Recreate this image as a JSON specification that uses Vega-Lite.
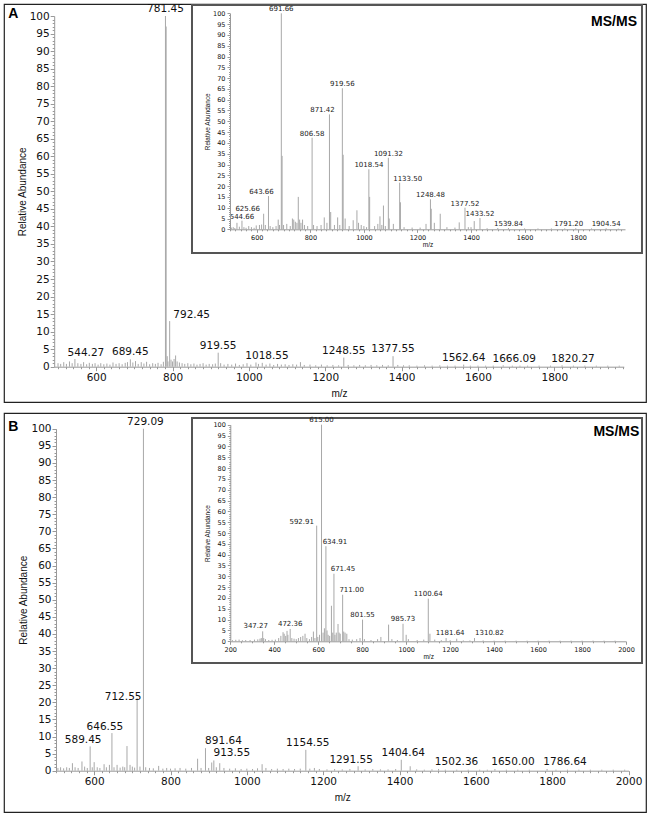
{
  "$schema": "https://vega.github.io/schema/vega-lite/v6.json",
  "padding": {"left": 3, "top": 3, "right": 3, "bottom": 3},
  "background": "white",
  "spacing": 9,
  "datasets": {
    "mainA": [
      {"mz":500,"ab":1},{"mz":507,"ab":0.8},{"mz":515,"ab":1.3},{"mz":522,"ab":0.8},{"mz":530,"ab":1.5},{"mz":537,"ab":1},
      {"mz":544.27,"ab":2.2,"label":"544.27"},{"mz":552,"ab":1},{"mz":560,"ab":0.8},{"mz":567,"ab":1.3},{"mz":575,"ab":0.7},
      {"mz":582,"ab":1.1},{"mz":590,"ab":0.8},{"mz":597,"ab":1},{"mz":605,"ab":0.6},{"mz":612,"ab":1},{"mz":620,"ab":0.7},
      {"mz":628,"ab":0.9},{"mz":636,"ab":0.6},{"mz":644,"ab":1.2},{"mz":652,"ab":0.8},{"mz":660,"ab":1},{"mz":668,"ab":0.7},
      {"mz":676,"ab":1.1},{"mz":682,"ab":1.3},{"mz":689.45,"ab":2.1,"label":"689.45"},{"mz":696,"ab":1.2},{"mz":703,"ab":1.6},
      {"mz":710,"ab":0.8},{"mz":718,"ab":1.3},{"mz":725,"ab":0.9},{"mz":732,"ab":1.4},{"mz":740,"ab":0.7},{"mz":748,"ab":1},
      {"mz":755,"ab":0.8},{"mz":762,"ab":1.1},{"mz":770,"ab":0.7},{"mz":776,"ab":1.4},{"mz":781.45,"ab":100,"label":"781.45"},
      {"mz":783.2,"ab":97},{"mz":786,"ab":3},{"mz":788,"ab":1.5},{"mz":792.45,"ab":13,"label":"792.45"},{"mz":796,"ab":2},{"mz":800,"ab":1.5},
      {"mz":804,"ab":2.2},{"mz":808,"ab":3.2},{"mz":812,"ab":1.5},{"mz":818,"ab":1.2},{"mz":825,"ab":1},{"mz":832,"ab":0.8},
      {"mz":840,"ab":1},{"mz":848,"ab":0.7},{"mz":856,"ab":0.9},{"mz":864,"ab":0.6},{"mz":872,"ab":0.8},{"mz":880,"ab":1},
      {"mz":888,"ab":0.6},{"mz":896,"ab":0.8},{"mz":905,"ab":0.7},{"mz":912,"ab":0.9},{"mz":919.55,"ab":4,"label":"919.55"},
      {"mz":926,"ab":1},{"mz":935,"ab":0.6},{"mz":945,"ab":0.8},{"mz":955,"ab":0.6},{"mz":965,"ab":0.9},{"mz":975,"ab":0.5},
      {"mz":985,"ab":0.7},{"mz":995,"ab":1},{"mz":1005,"ab":0.6},{"mz":1018.55,"ab":1.2,"label":"1018.55"},{"mz":1025,"ab":0.8},
      {"mz":1035,"ab":1.1},{"mz":1045,"ab":0.6},{"mz":1055,"ab":0.9},{"mz":1065,"ab":0.5},{"mz":1075,"ab":0.8},{"mz":1085,"ab":0.6},
      {"mz":1095,"ab":0.7},{"mz":1105,"ab":0.5},{"mz":1115,"ab":0.7},{"mz":1125,"ab":0.6},{"mz":1135,"ab":1.3},{"mz":1145,"ab":0.5},
      {"mz":1160,"ab":0.6},{"mz":1175,"ab":0.4},{"mz":1190,"ab":0.6},{"mz":1205,"ab":0.4},{"mz":1220,"ab":0.5},{"mz":1235,"ab":0.4},
      {"mz":1248.55,"ab":2.6,"label":"1248.55"},{"mz":1260,"ab":0.5},{"mz":1275,"ab":0.4},{"mz":1290,"ab":0.5},{"mz":1305,"ab":0.4},
      {"mz":1320,"ab":0.5},{"mz":1335,"ab":0.4},{"mz":1350,"ab":0.5},{"mz":1365,"ab":0.4},{"mz":1377.55,"ab":3,"label":"1377.55"},
      {"mz":1390,"ab":0.5},{"mz":1405,"ab":0.4},{"mz":1420,"ab":0.4},{"mz":1440,"ab":0.3},{"mz":1460,"ab":0.4},{"mz":1480,"ab":0.3},
      {"mz":1500,"ab":0.4},{"mz":1520,"ab":0.3},{"mz":1540,"ab":0.3},{"mz":1562.64,"ab":0.6,"label":"1562.64"},{"mz":1580,"ab":0.3},
      {"mz":1600,"ab":0.3},{"mz":1620,"ab":0.3},{"mz":1640,"ab":0.3},{"mz":1666.09,"ab":0.4,"label":"1666.09"},{"mz":1690,"ab":0.3},
      {"mz":1710,"ab":0.3},{"mz":1730,"ab":0.3},{"mz":1760,"ab":0.3},{"mz":1790,"ab":0.3},{"mz":1820.27,"ab":0.4,"label":"1820.27"},
      {"mz":1850,"ab":0.3},{"mz":1880,"ab":0.3},{"mz":1910,"ab":0.3},{"mz":1940,"ab":0.3},{"mz":1970,"ab":0.3}
    ],
    "insetA": [
      {"mz":505,"ab":0.8},{"mz":512,"ab":1},{"mz":518,"ab":0.6},{"mz":526,"ab":3},{"mz":535,"ab":1.2},{"mz":544.66,"ab":4,"label":"544.66"},
      {"mz":552,"ab":1},{"mz":560,"ab":0.7},{"mz":570,"ab":1.5},{"mz":580,"ab":1},{"mz":590,"ab":0.7},{"mz":598,"ab":1.8},
      {"mz":610,"ab":2},{"mz":618,"ab":2.2},{"mz":625.66,"ab":7.2,"label":"625.66"},{"mz":632,"ab":2},{"mz":643.66,"ab":15.4,"label":"643.66"},
      {"mz":650,"ab":1.5},{"mz":660,"ab":1},{"mz":672,"ab":1.5},{"mz":680,"ab":4.5},{"mz":685,"ab":2},{"mz":691.66,"ab":100,"label":"691.66"},
      {"mz":694.5,"ab":34},{"mz":700,"ab":2},{"mz":712,"ab":2.5},{"mz":725,"ab":1.5},{"mz":733,"ab":5},{"mz":738,"ab":4.5},{"mz":744,"ab":3.5},
      {"mz":750,"ab":3},{"mz":755,"ab":15},{"mz":760,"ab":4.5},{"mz":765,"ab":3},{"mz":771,"ab":4.5},{"mz":778,"ab":2},{"mz":790,"ab":1.5},
      {"mz":806.58,"ab":42.4,"label":"806.58"},{"mz":812,"ab":2},{"mz":825,"ab":1.5},{"mz":840,"ab":2},{"mz":852,"ab":5.5},{"mz":862,"ab":3},
      {"mz":871.42,"ab":53.2,"label":"871.42"},{"mz":876,"ab":8},{"mz":890,"ab":2},{"mz":902,"ab":5.5},{"mz":910,"ab":2},
      {"mz":919.56,"ab":65.3,"label":"919.56"},{"mz":922.5,"ab":34.5},{"mz":930,"ab":5},{"mz":945,"ab":1.5},{"mz":960,"ab":4.2},
      {"mz":974,"ab":8.8},{"mz":980,"ab":3},{"mz":990,"ab":2},{"mz":1000,"ab":1.5},{"mz":1010,"ab":1},{"mz":1018.54,"ab":27.8,"label":"1018.54"},
      {"mz":1021.5,"ab":15},{"mz":1040,"ab":1.5},{"mz":1052,"ab":2.5},{"mz":1060,"ab":6},{"mz":1067,"ab":2},{"mz":1073,"ab":11},
      {"mz":1080,"ab":1.5},{"mz":1091.32,"ab":33.1,"label":"1091.32"},{"mz":1094.5,"ab":5},{"mz":1110,"ab":2.5},
      {"mz":1133.5,"ab":21.6,"label":"1133.50"},{"mz":1136.5,"ab":12.5},{"mz":1150,"ab":1},{"mz":1180,"ab":0.8},{"mz":1210,"ab":0.8},
      {"mz":1232,"ab":2.5},{"mz":1248.48,"ab":13.9,"label":"1248.48"},{"mz":1251.5,"ab":9.5},{"mz":1263,"ab":3},{"mz":1285,"ab":7.2},
      {"mz":1310,"ab":1},{"mz":1340,"ab":0.8},{"mz":1356,"ab":3.2},{"mz":1377.52,"ab":10,"label":"1377.52"},{"mz":1390,"ab":1},
      {"mz":1400,"ab":1},{"mz":1412,"ab":3.8},{"mz":1433.52,"ab":5.2,"label":"1433.52"},{"mz":1460,"ab":0.5},{"mz":1500,"ab":0.6},
      {"mz":1539.84,"ab":0.6,"label":"1539.84"},{"mz":1600,"ab":0.4},{"mz":1650,"ab":0.4},{"mz":1700,"ab":0.4},{"mz":1750,"ab":0.4},
      {"mz":1791.2,"ab":0.5,"label":"1791.20"},{"mz":1850,"ab":0.4},{"mz":1904.54,"ab":0.5,"label":"1904.54"},{"mz":1950,"ab":0.3}
    ],
    "mainB": [
      {"mz":505,"ab":0.8},{"mz":512,"ab":1},{"mz":520,"ab":0.7},{"mz":528,"ab":1},{"mz":535,"ab":0.8},{"mz":543,"ab":2.2},{"mz":550,"ab":1},
      {"mz":558,"ab":0.8},{"mz":568,"ab":2.7},{"mz":575,"ab":1.2},{"mz":582,"ab":0.8},{"mz":589.45,"ab":7.1,"label":"589.45"},{"mz":595,"ab":1},
      {"mz":600,"ab":2.5},{"mz":608,"ab":1},{"mz":615,"ab":0.8},{"mz":626,"ab":1.9},{"mz":632,"ab":1},{"mz":640,"ab":1.7},
      {"mz":646.55,"ab":11,"label":"646.55"},{"mz":652,"ab":1},{"mz":660,"ab":1.7},{"mz":668,"ab":0.9},{"mz":675,"ab":1.2},{"mz":680,"ab":1},
      {"mz":686,"ab":7.2},{"mz":694,"ab":1.7},{"mz":700,"ab":1.2},{"mz":706,"ab":0.9},{"mz":712.55,"ab":21.3,"label":"712.55"},{"mz":720,"ab":1.2},
      {"mz":729.09,"ab":100,"label":"729.09"},{"mz":735,"ab":1},{"mz":745,"ab":0.8},{"mz":755,"ab":0.7},{"mz":769,"ab":1.4},{"mz":780,"ab":0.6},
      {"mz":790,"ab":0.8},{"mz":800,"ab":0.6},{"mz":812,"ab":0.7},{"mz":825,"ab":0.8},{"mz":840,"ab":0.6},{"mz":855,"ab":0.8},{"mz":871,"ab":3.5},
      {"mz":880,"ab":0.8},{"mz":891.64,"ab":6.6,"label":"891.64"},{"mz":900,"ab":0.8},{"mz":908,"ab":2.4},{"mz":913.55,"ab":3,"label":"913.55"},
      {"mz":920,"ab":1},{"mz":929,"ab":2.2},{"mz":940,"ab":0.8},{"mz":955,"ab":0.6},{"mz":970,"ab":0.7},{"mz":985,"ab":0.5},{"mz":1000,"ab":0.6},
      {"mz":1015,"ab":0.5},{"mz":1028,"ab":0.7},{"mz":1040,"ab":1.9},{"mz":1050,"ab":0.8},{"mz":1065,"ab":0.5},{"mz":1080,"ab":0.6},
      {"mz":1095,"ab":0.5},{"mz":1110,"ab":0.6},{"mz":1125,"ab":0.5},{"mz":1140,"ab":0.6},{"mz":1154.55,"ab":6.1,"label":"1154.55"},
      {"mz":1165,"ab":0.6},{"mz":1177,"ab":0.8},{"mz":1190,"ab":0.5},{"mz":1210,"ab":0.4},{"mz":1230,"ab":0.5},{"mz":1250,"ab":0.4},
      {"mz":1270,"ab":0.5},{"mz":1291.55,"ab":1.3,"label":"1291.55"},{"mz":1310,"ab":0.4},{"mz":1330,"ab":0.5},{"mz":1350,"ab":0.4},
      {"mz":1370,"ab":0.4},{"mz":1390,"ab":0.5},{"mz":1404.64,"ab":3.2,"label":"1404.64"},{"mz":1428,"ab":1.3},{"mz":1445,"ab":0.4},
      {"mz":1465,"ab":0.3},{"mz":1485,"ab":0.4},{"mz":1502.36,"ab":0.5,"label":"1502.36"},{"mz":1520,"ab":0.3},{"mz":1550,"ab":0.3},
      {"mz":1580,"ab":0.3},{"mz":1610,"ab":0.3},{"mz":1630,"ab":0.3},{"mz":1650,"ab":0.5,"label":"1650.00"},{"mz":1680,"ab":0.3},
      {"mz":1710,"ab":0.3},{"mz":1740,"ab":0.3},{"mz":1786.64,"ab":0.5,"label":"1786.64"},{"mz":1810,"ab":0.3},{"mz":1840,"ab":0.3},
      {"mz":1870,"ab":0.3},{"mz":1900,"ab":0.3},{"mz":1930,"ab":0.3},{"mz":1960,"ab":0.3},{"mz":1990,"ab":0.3}
    ],
    "insetB": [
      {"mz":210,"ab":0.5},{"mz":225,"ab":0.7},{"mz":240,"ab":0.8},{"mz":255,"ab":0.5},{"mz":270,"ab":0.6},{"mz":290,"ab":0.6},{"mz":310,"ab":0.8},
      {"mz":325,"ab":0.9},{"mz":335,"ab":1.2},{"mz":341,"ab":1.5},{"mz":347.27,"ab":4.6,"label":"347.27"},{"mz":352,"ab":1.5},{"mz":360,"ab":1},
      {"mz":375,"ab":0.6},{"mz":390,"ab":0.7},{"mz":405,"ab":0.8},{"mz":420,"ab":1.5},{"mz":430,"ab":2.5},{"mz":440,"ab":4.2},{"mz":445,"ab":3.5},
      {"mz":452,"ab":2.5},{"mz":458,"ab":4.8},{"mz":462,"ab":3},{"mz":472.36,"ab":5.7,"label":"472.36"},{"mz":480,"ab":1.5},{"mz":490,"ab":1.2},
      {"mz":500,"ab":1},{"mz":510,"ab":1.5},{"mz":520,"ab":2},{"mz":530,"ab":2.5},{"mz":540,"ab":3.5},{"mz":548,"ab":1.5},{"mz":560,"ab":1},
      {"mz":570,"ab":2},{"mz":578,"ab":4.5},{"mz":585,"ab":1.5},{"mz":592.91,"ab":53.4,"label":"592.91"},{"mz":598,"ab":2},{"mz":606,"ab":3},
      {"mz":615,"ab":100,"label":"615.00"},{"mz":622,"ab":4},{"mz":628,"ab":6},{"mz":634.91,"ab":43.9,"label":"634.91"},{"mz":640,"ab":5},
      {"mz":645,"ab":3},{"mz":652,"ab":2.5},{"mz":660,"ab":16.4},{"mz":666,"ab":4},{"mz":671.45,"ab":31.2,"label":"671.45"},{"mz":676,"ab":3},
      {"mz":682,"ab":4},{"mz":690,"ab":8},{"mz":695,"ab":4},{"mz":700,"ab":3.5},{"mz":711,"ab":21.5,"label":"711.00"},{"mz":716,"ab":4.5},
      {"mz":722,"ab":4},{"mz":730,"ab":3.5},{"mz":740,"ab":1},{"mz":755,"ab":0.8},{"mz":775,"ab":1},{"mz":790,"ab":1.5},
      {"mz":801.55,"ab":10,"label":"801.55"},{"mz":810,"ab":1},{"mz":840,"ab":0.6},{"mz":870,"ab":1},{"mz":885,"ab":2},{"mz":920,"ab":7.7},
      {"mz":935,"ab":1},{"mz":960,"ab":0.6},{"mz":985.73,"ab":8.1,"label":"985.73"},{"mz":1000,"ab":3},{"mz":1010,"ab":1},{"mz":1050,"ab":0.6},
      {"mz":1080,"ab":0.8},{"mz":1100.64,"ab":19.7,"label":"1100.64"},{"mz":1108,"ab":3.5},{"mz":1130,"ab":0.8},{"mz":1160,"ab":0.5},
      {"mz":1181.64,"ab":1.5,"label":"1181.64"},{"mz":1200,"ab":0.5},{"mz":1230,"ab":1.2},{"mz":1260,"ab":0.4},{"mz":1290,"ab":0.4},
      {"mz":1310.82,"ab":1.5,"label":"1310.82"},{"mz":1350,"ab":0.4},{"mz":1400,"ab":0.3},{"mz":1450,"ab":0.3},{"mz":1500,"ab":0.3},
      {"mz":1550,"ab":0.3},{"mz":1600,"ab":0.3},{"mz":1650,"ab":0.3},{"mz":1700,"ab":0.3},{"mz":1750,"ab":0.3},{"mz":1800,"ab":0.3},
      {"mz":1850,"ab":0.3},{"mz":1900,"ab":0.3},{"mz":1950,"ab":0.3}
    ]
  },
  "vconcat": [
    {
      "width": 642,
      "height": 398,
      "resolve": {"scale": {"x": "independent", "y": "independent"}, "axis": {"x": "independent", "y": "independent"}},
      "layer": [
        {
          "data": {"name": "mainA"},
          "encoding": {
            "x": {"field": "mz", "type": "quantitative",
              "scale": {"domain": [490, 1982], "range": [50.2, 619.8], "nice": false, "zero": false},
              "axis": {"orient": "bottom", "offset": -35.3, "title": "m/z", "titleFontSize": 10, "titlePadding": 5, "labelFontSize": 10.5, "labelPadding": 2, "format": "d", "tickCount": 75,
                "labelExpr": "datum.value % 200 === 0 ? datum.label : ''",
                "tickSize": {"condition": {"test": "datum.value % 200 === 0", "value": 4}, "value": 2}}},
            "y": {"field": "ab", "type": "quantitative",
              "scale": {"domain": [0, 100], "range": [362.7, 12], "nice": false, "zero": false},
              "axis": {"orient": "left", "offset": -50.2, "title": "Relative Abundance", "titleFontSize": 10, "titlePadding": 2, "labelFontSize": 10.5, "labelPadding": 1, "tickCount": 100,
                "labelExpr": "datum.value % 5 === 0 ? datum.label : ''",
                "tickSize": {"condition": {"test": "datum.value % 5 === 0", "value": 4}, "value": 2}}}
          },
          "layer": [
            {"mark": {"type": "rule", "color": "#a8a8a8", "strokeWidth": 1}, "encoding": {"y2": {"datum": 0}}},
            {"transform": [{"filter": {"field": "label", "oneOf": ["689.45", "781.45", "919.55", "1248.55", "1377.55", "1562.64"]}}],
              "mark": {"type": "text", "dy": -4, "fontSize": 10.5, "font": "DejaVu Sans", "color": "#111", "baseline": "alphabetic"},
              "encoding": {"text": {"field": "label", "type": "nominal"}}},
            {"transform": [{"filter": {"field": "label", "oneOf": ["544.27", "1018.55", "1666.09", "1820.27"]}}],
              "mark": {"type": "text", "dx": 11, "dy": -3, "fontSize": 10.5, "font": "DejaVu Sans", "color": "#111", "baseline": "alphabetic"},
              "encoding": {"text": {"field": "label", "type": "nominal"}}},
            {"transform": [{"filter": {"field": "label", "oneOf": ["792.45"]}}],
              "mark": {"type": "text", "dx": 22, "dy": -3, "fontSize": 10.5, "font": "DejaVu Sans", "color": "#111", "baseline": "alphabetic"},
              "encoding": {"text": {"field": "label", "type": "nominal"}}},
            {"transform": [{"filter": {"field": "label", "equal": "781.45"}}],
              "mark": {"type": "text", "text": "A", "align": "left", "baseline": "alphabetic", "fontSize": 14, "fontWeight": "bold", "font": "Liberation Sans", "color": "#000"},
              "encoding": {
                "x": {"datum": 369.8, "type": "quantitative"},
                "y": {"datum": 99.3, "type": "quantitative"}}}
          ]
        },
        {
          "data": {"name": "insetA"},
          "encoding": {
            "x": {"field": "mz", "type": "quantitative",
              "scale": {"domain": [500, 1975], "range": [226, 621], "nice": false, "zero": false},
              "axis": {"orient": "bottom", "zindex": 1, "offset": -172.7, "title": "m/z", "titleFontSize": 6.5, "titlePadding": 1, "labelFontSize": 6.5, "labelPadding": 2, "format": "d", "tickCount": 74,
                "labelExpr": "datum.value % 200 === 0 ? datum.label : ''",
                "tickSize": {"condition": {"test": "datum.value % 200 === 0", "value": 3}, "value": 1.5}}},
            "y": {"field": "ab", "type": "quantitative",
              "scale": {"domain": [0, 100], "range": [225.3, 9.3], "nice": false, "zero": false},
              "axis": {"orient": "left", "zindex": 1, "offset": -226, "title": "Relative Abundance", "titleFontSize": 6.4, "titlePadding": 2, "labelFontSize": 6.5, "labelPadding": 2, "tickCount": 100,
                "labelExpr": "datum.value % 5 === 0 ? datum.label : ''",
                "tickSize": {"condition": {"test": "datum.value % 5 === 0", "value": 3}, "value": 1.5}}}
          },
          "layer": [
            {"transform": [{"filter": {"field": "label", "equal": "691.66"}}],
              "mark": {"type": "rect", "fill": "white", "stroke": "#555", "strokeWidth": 2},
              "encoding": {
                "x": {"datum": 358.1, "type": "quantitative"},
                "x2": {"datum": 2038.4},
                "y": {"datum": 103.85, "type": "quantitative"},
                "y2": {"datum": -10.97}}},
            {"mark": {"type": "rule", "color": "#a8a8a8", "strokeWidth": 1}, "encoding": {"y2": {"datum": 0}}},
            {"transform": [{"filter": {"field": "label", "oneOf": ["691.66", "919.56", "806.58", "1018.54", "1091.32", "1248.48", "1377.52", "1539.84", "1904.54", "544.66", "1433.52"]}}],
              "mark": {"type": "text", "dy": -2, "fontSize": 7, "font": "DejaVu Sans", "color": "#222", "baseline": "alphabetic"},
              "encoding": {"text": {"field": "label", "type": "nominal"}}},
            {"transform": [{"filter": {"field": "label", "oneOf": ["871.42", "643.66", "1791.20"]}}],
              "mark": {"type": "text", "dx": -7, "dy": -2, "fontSize": 7, "font": "DejaVu Sans", "color": "#222", "baseline": "alphabetic"},
              "encoding": {"text": {"field": "label", "type": "nominal"}}},
            {"transform": [{"filter": {"field": "label", "oneOf": ["625.66"]}}],
              "mark": {"type": "text", "dx": -16, "dy": -3, "fontSize": 7, "font": "DejaVu Sans", "color": "#222", "baseline": "alphabetic"},
              "encoding": {"text": {"field": "label", "type": "nominal"}}},
            {"transform": [{"filter": {"field": "label", "oneOf": ["1133.50"]}}],
              "mark": {"type": "text", "dx": 8, "dy": -2, "fontSize": 7, "font": "DejaVu Sans", "color": "#222", "baseline": "alphabetic"},
              "encoding": {"text": {"field": "label", "type": "nominal"}}},
            {"transform": [{"filter": {"field": "label", "equal": "691.66"}}],
              "mark": {"type": "text", "text": "MS/MS", "align": "right", "baseline": "alphabetic", "fontSize": 14, "fontWeight": "bold", "font": "Liberation Sans", "color": "#000"},
              "encoding": {
                "x": {"datum": 2019.8, "type": "quantitative"},
                "y": {"datum": 94.1, "type": "quantitative"}}}
          ]
        }
      ]
    },
    {
      "width": 642,
      "height": 399,
      "resolve": {"scale": {"x": "independent", "y": "independent"}, "axis": {"x": "independent", "y": "independent"}},
      "layer": [
        {
          "data": {"name": "mainB"},
          "encoding": {
            "x": {"field": "mz", "type": "quantitative",
              "scale": {"domain": [500, 2000], "range": [52, 624.5], "nice": false, "zero": false},
              "axis": {"orient": "bottom", "offset": -41.3, "title": "m/z", "titleFontSize": 10, "titlePadding": 5, "labelFontSize": 10.5, "labelPadding": 2, "format": "d", "tickCount": 75,
                "labelExpr": "datum.value % 200 === 0 ? datum.label : ''",
                "tickSize": {"condition": {"test": "datum.value % 200 === 0", "value": 4}, "value": 2}}},
            "y": {"field": "ab", "type": "quantitative",
              "scale": {"domain": [0, 100], "range": [357.7, 15.7], "nice": false, "zero": false},
              "axis": {"orient": "left", "offset": -52, "title": "Relative Abundance", "titleFontSize": 10, "titlePadding": 2, "labelFontSize": 10.5, "labelPadding": 1, "tickCount": 100,
                "labelExpr": "datum.value % 5 === 0 ? datum.label : ''",
                "tickSize": {"condition": {"test": "datum.value % 5 === 0", "value": 4}, "value": 2}}}
          },
          "layer": [
            {"mark": {"type": "rule", "color": "#a8a8a8", "strokeWidth": 1}, "encoding": {"y2": {"datum": 0}}},
            {"transform": [{"filter": {"field": "label", "oneOf": ["729.09", "1154.55", "1404.64"]}}],
              "mark": {"type": "text", "dx": 2, "dy": -4, "fontSize": 10.5, "font": "DejaVu Sans", "color": "#111", "baseline": "alphabetic"},
              "encoding": {"text": {"field": "label", "type": "nominal"}}},
            {"transform": [{"filter": {"field": "label", "oneOf": ["589.45", "646.55", "1291.55"]}}],
              "mark": {"type": "text", "dx": -7, "dy": -3, "fontSize": 10.5, "font": "DejaVu Sans", "color": "#111", "baseline": "alphabetic"},
              "encoding": {"text": {"field": "label", "type": "nominal"}}},
            {"transform": [{"filter": {"field": "label", "oneOf": ["712.55"]}}],
              "mark": {"type": "text", "dx": -14, "dy": 2, "fontSize": 10.5, "font": "DejaVu Sans", "color": "#111", "baseline": "alphabetic"},
              "encoding": {"text": {"field": "label", "type": "nominal"}}},
            {"transform": [{"filter": {"field": "label", "oneOf": ["891.64", "913.55", "1502.36", "1650.00", "1786.64"]}}],
              "mark": {"type": "text", "dx": 18, "dy": -4, "fontSize": 10.5, "font": "DejaVu Sans", "color": "#111", "baseline": "alphabetic"},
              "encoding": {"text": {"field": "label", "type": "nominal"}}},
            {"transform": [{"filter": {"field": "label", "equal": "729.09"}}],
              "mark": {"type": "text", "text": "B", "align": "left", "baseline": "alphabetic", "fontSize": 14, "fontWeight": "bold", "font": "Liberation Sans", "color": "#000"},
              "encoding": {
                "x": {"datum": 375, "type": "quantitative"},
                "y": {"datum": 99.24, "type": "quantitative"}}}
          ]
        },
        {
          "data": {"name": "insetB"},
          "encoding": {
            "x": {"field": "mz", "type": "quantitative",
              "scale": {"domain": [200, 2000], "range": [226.3, 622], "nice": false, "zero": false},
              "axis": {"orient": "bottom", "zindex": 1, "offset": -170.7, "title": "m/z", "titleFontSize": 6.5, "titlePadding": 1, "labelFontSize": 6.5, "labelPadding": 2, "format": "d", "tickCount": 36,
                "labelExpr": "datum.value % 200 === 0 ? datum.label : ''",
                "tickSize": {"condition": {"test": "datum.value % 200 === 0", "value": 3}, "value": 1.5}}},
            "y": {"field": "ab", "type": "quantitative",
              "scale": {"domain": [0, 100], "range": [228.3, 11.7], "nice": false, "zero": false},
              "axis": {"orient": "left", "zindex": 1, "offset": -226.3, "title": "Relative Abundance", "titleFontSize": 6.4, "titlePadding": 2, "labelFontSize": 6.5, "labelPadding": 2, "tickCount": 100,
                "labelExpr": "datum.value % 5 === 0 ? datum.label : ''",
                "tickSize": {"condition": {"test": "datum.value % 5 === 0", "value": 3}, "value": 1.5}}}
          },
          "layer": [
            {"transform": [{"filter": {"field": "label", "equal": "615.00"}}],
              "mark": {"type": "rect", "fill": "white", "stroke": "#555", "strokeWidth": 2},
              "encoding": {
                "x": {"datum": 25.8, "type": "quantitative"},
                "x2": {"datum": 2072.8},
                "y": {"datum": 103.1, "type": "quantitative"},
                "y2": {"datum": -10.0}}},
            {"mark": {"type": "rule", "color": "#a8a8a8", "strokeWidth": 1}, "encoding": {"y2": {"datum": 0}}},
            {"transform": [{"filter": {"field": "label", "oneOf": ["615.00", "801.55", "985.73", "1100.64", "472.36"]}}],
              "mark": {"type": "text", "dy": -2.5, "fontSize": 7, "font": "DejaVu Sans", "color": "#222", "baseline": "alphabetic"},
              "encoding": {"text": {"field": "label", "type": "nominal"}}},
            {"transform": [{"filter": {"field": "label", "oneOf": ["347.27"]}}],
              "mark": {"type": "text", "dx": -7, "dy": -3, "fontSize": 7, "font": "DejaVu Sans", "color": "#222", "baseline": "alphabetic"},
              "encoding": {"text": {"field": "label", "type": "nominal"}}},
            {"transform": [{"filter": {"field": "label", "oneOf": ["592.91"]}}],
              "mark": {"type": "text", "dx": -15, "dy": -2, "fontSize": 7, "font": "DejaVu Sans", "color": "#222", "baseline": "alphabetic"},
              "encoding": {"text": {"field": "label", "type": "nominal"}}},
            {"transform": [{"filter": {"field": "label", "oneOf": ["634.91", "671.45", "711.00"]}}],
              "mark": {"type": "text", "dx": 9, "dy": -2.5, "fontSize": 7, "font": "DejaVu Sans", "color": "#222", "baseline": "alphabetic"},
              "encoding": {"text": {"field": "label", "type": "nominal"}}},
            {"transform": [{"filter": {"field": "label", "oneOf": ["1181.64"]}}],
              "mark": {"type": "text", "dx": 4, "dy": -3, "fontSize": 7, "font": "DejaVu Sans", "color": "#222", "baseline": "alphabetic"},
              "encoding": {"text": {"field": "label", "type": "nominal"}}},
            {"transform": [{"filter": {"field": "label", "oneOf": ["1310.82"]}}],
              "mark": {"type": "text", "dx": 15, "dy": -3, "fontSize": 7, "font": "DejaVu Sans", "color": "#222", "baseline": "alphabetic"},
              "encoding": {"text": {"field": "label", "type": "nominal"}}},
            {"transform": [{"filter": {"field": "label", "equal": "615.00"}}],
              "mark": {"type": "text", "text": "MS/MS", "align": "right", "baseline": "alphabetic", "fontSize": 14, "fontWeight": "bold", "font": "Liberation Sans", "color": "#000"},
              "encoding": {
                "x": {"datum": 2060.5, "type": "quantitative"},
                "y": {"datum": 94.9, "type": "quantitative"}}}
          ]
        }
      ]
    }
  ],
  "config": {
    "view": {"stroke": "#222", "strokeWidth": 1.2},
    "axis": {
      "grid": false,
      "labelFont": "DejaVu Sans",
      "titleFont": "Liberation Sans",
      "titleFontWeight": "normal",
      "domainColor": "#999",
      "tickColor": "#999",
      "labelColor": "#111",
      "titleColor": "#111",
      "labelOverlap": false,
      "labelFlush": false,
      "labelBound": false
    }
  }
}
